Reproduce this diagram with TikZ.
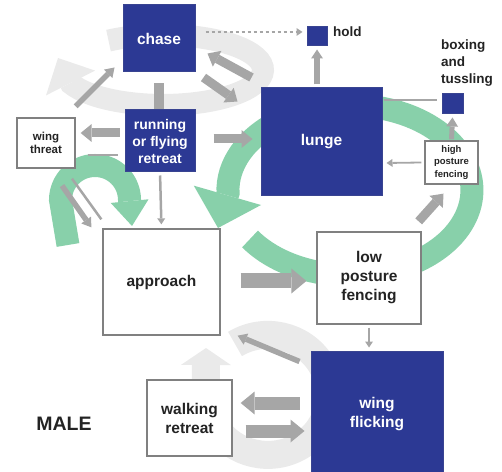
\documentclass[tikz,border=0pt]{standalone}
\usepackage{fontspec}
\setmainfont{Liberation Sans}
\usepackage{xcolor}
\usepackage{tikz}
\usetikzlibrary{arrows.meta}
\definecolor{boxblue}{RGB}{44,57,148}
\definecolor{arrowgray}{RGB}{166,166,166}
\definecolor{ringgray}{RGB}{234,234,234}
\definecolor{loopgreen}{RGB}{136,208,170}
\definecolor{labeltext}{RGB}{35,35,35}
\tikzset{
  bluebox/.style={draw=boxblue!85!gray, line width=1pt, fill=boxblue, text=white, inner sep=0pt, align=center, font=\bfseries\fontsize{15.5}{19}\selectfont},
  whitebox/.style={draw=gray, line width=1.3pt, fill=white, text=labeltext, inner sep=0pt, align=center, font=\bfseries\fontsize{15.5}{19}\selectfont},
  broadarrow/.style={color=arrowgray, line width=13pt, -{Triangle[width=23pt,length=14pt,line width=0pt]}},
  thickarrow/.style={color=arrowgray, line width=9pt, -{Triangle[width=18pt,length=11pt,line width=0pt]}},
  slimarrow/.style={color=arrowgray, line width=5.5pt, -{Triangle[width=12pt,length=9pt,line width=0pt]}},
  thinarrow/.style={color=arrowgray, line width=2.5pt, -{Triangle[width=8pt,length=6pt,line width=0pt]}},
  thinline/.style={color=arrowgray, line width=2.5pt}
}

\begin{document}
\begin{tikzpicture}[x=1pt, y=1pt]
\useasboundingbox (0,0) rectangle (502,471);
\draw[ringgray, line width=22pt, -{Triangle[width=55pt,length=28pt,line width=0pt]}] (108.5,430.4) arc[start angle=123, end angle=-157, x radius=100, y radius=35] -- (58,413);
\draw[ringgray, line width=28pt, -{Triangle[width=50pt,length=17pt,line width=0pt]}] (235,127) arc[start angle=122, end angle=-180, x radius=62, y radius=60] -- (206,123);
\draw[loopgreen, line width=23pt, -{Triangle[width=70pt,length=34pt,line width=0pt]}] (250,232) arc[start angle=215, end angle=542, x radius=122, y radius=85] -- (218,243);
\draw[loopgreen, line width=23pt, -{Triangle[width=38pt,length=25pt,line width=0pt]}] (68,226) -- (60.5,271) arc[start angle=180, end angle=0, radius=34.5] -- (132,245);

\node[bluebox, minimum width=72pt, minimum height=67pt] (chase) at (159,432.5) {chase};
\node[bluebox, minimum width=70pt, minimum height=62pt, font=\bfseries\fontsize{14}{17}\selectfont] (retreat) at (160,330) {running\\or flying\\retreat};
\node[whitebox, minimum width=58pt, minimum height=50pt, font=\bfseries\fontsize{11.5}{13}\selectfont] (threat) at (46,328) {wing\\threat};
\node[whitebox, minimum width=117pt, minimum height=106pt] (approach) at (161.5,189) {approach};
\node[bluebox, minimum width=121pt, minimum height=108pt] (lunge) at (321.5,329) {lunge};
\node[bluebox, minimum width=20pt, minimum height=19pt] (hold) at (317,434.5) {};
\node[anchor=base west, inner sep=0pt, text=labeltext, font=\bfseries\fontsize{13.5}{17}\selectfont] (holdlabel) at (333,434) {hold};
\node[bluebox, minimum width=21pt, minimum height=20pt] (boxing) at (452.5,367) {};
\node[anchor=north west, inner sep=0pt, align=left, text=labeltext, font=\bfseries\fontsize{13.5}{17}\selectfont] (boxinglabel) at (441,431) {boxing\\and\\tussling};
\node[whitebox, minimum width=53pt, minimum height=43pt, font=\bfseries\fontsize{9.5}{12.5}\selectfont] (high) at (451.5,308.5) {high\\posture\\fencing};
\node[whitebox, minimum width=104pt, minimum height=92pt] (low) at (369,193) {low\\posture\\fencing};
\node[bluebox, minimum width=132pt, minimum height=127pt] (flick) at (377,56.5) {wing\\flicking};
\node[whitebox, minimum width=85pt, minimum height=76pt] (walking) at (189.5,53) {walking\\retreat};
\node[text=labeltext, font=\bfseries\fontsize{19.5}{22}\selectfont] (male) at (64,47) {MALE};

\draw[thinarrow, line width=1.2pt, dashed] ([shift={(10pt,6.5pt)}]chase.east) -- ([shift={(-4pt,4.5pt)}]hold.west);
\draw[slimarrow] ([shift={(-4.5pt,3pt)}]lunge.north) -- ([yshift=-3pt]hold.south);
\draw[arrowgray, line width=10pt] ([yshift=-11pt]chase.south) -- (chase.south |- retreat.north);
\draw[thinarrow, shorten <=3pt, shorten >=4pt] (retreat.south) -- (approach.north);
\draw[thickarrow] ([shift={(-5pt,8pt)}]retreat.west) -- ([shift={(5pt,10pt)}]threat.east);
\draw[thinline] ([shift={(12pt,-12pt)}]threat.east) -- ([shift={(-7pt,-14pt)}]retreat.west);
\draw[thickarrow] ([shift={(18pt,2pt)}]retreat.east) -- ([shift={(-8pt,3pt)}]lunge.west);
\draw[slimarrow] ([shift={(0pt,11pt)}]threat.north east) -- ([shift={(-8pt,5pt)}]chase.south west);
\draw[thickarrow] ([shift={(-9pt,10pt)}]lunge.north west) -- ([shift={(12pt,19pt)}]chase.south east);
\draw[thickarrow] ([shift={(8pt,-5pt)}]chase.south east) -- ([shift={(-23pt,-14pt)}]lunge.north west);
\draw[slimarrow] ([shift={(16pt,-17pt)}]threat.south) -- ([shift={(-11pt,1pt)}]approach.north west);
\draw[thinline] ([shift={(26pt,-10pt)}]threat.south) -- ([shift={(-1pt,9pt)}]approach.north west);
\draw[thinline] ([shift={(-5pt,4pt)}]boxing.west) -- ([shift={(1pt,42pt)}]lunge.east);
\draw[slimarrow, line width=5pt] ([yshift=1pt]high.north) -- ([yshift=-3pt]boxing.south);
\draw[thinarrow, line width=1.8pt] ([xshift=-3pt]high.west) -- ([shift={(4pt,-21pt)}]lunge.east);
\draw[thickarrow] ([shift={(-3pt,10pt)}]low.north east) -- ([shift={(-8pt,-9pt)}]high.south);
\draw[broadarrow, line width=15pt, -{Triangle[width=25pt,length=15pt,line width=0pt]}] ([shift={(20pt,1pt)}]approach.east) -- ([shift={(-10pt,-3pt)}]low.west);
\draw[thinarrow, shorten <=3pt, shorten >=3pt] (low.south) -- (low.south |- flick.north);
\draw[slimarrow] ([shift={(-11pt,-11pt)}]flick.north west) -- ([xshift=17pt]approach.south east);
\draw[broadarrow] ([shift={(-11pt,11.5pt)}]flick.west) -- ([shift={(8pt,15pt)}]walking.east);
\draw[broadarrow] ([shift={(13pt,-13pt)}]walking.east) -- ([shift={(-6pt,-16.5pt)}]flick.west);
\end{tikzpicture}
\end{document}
